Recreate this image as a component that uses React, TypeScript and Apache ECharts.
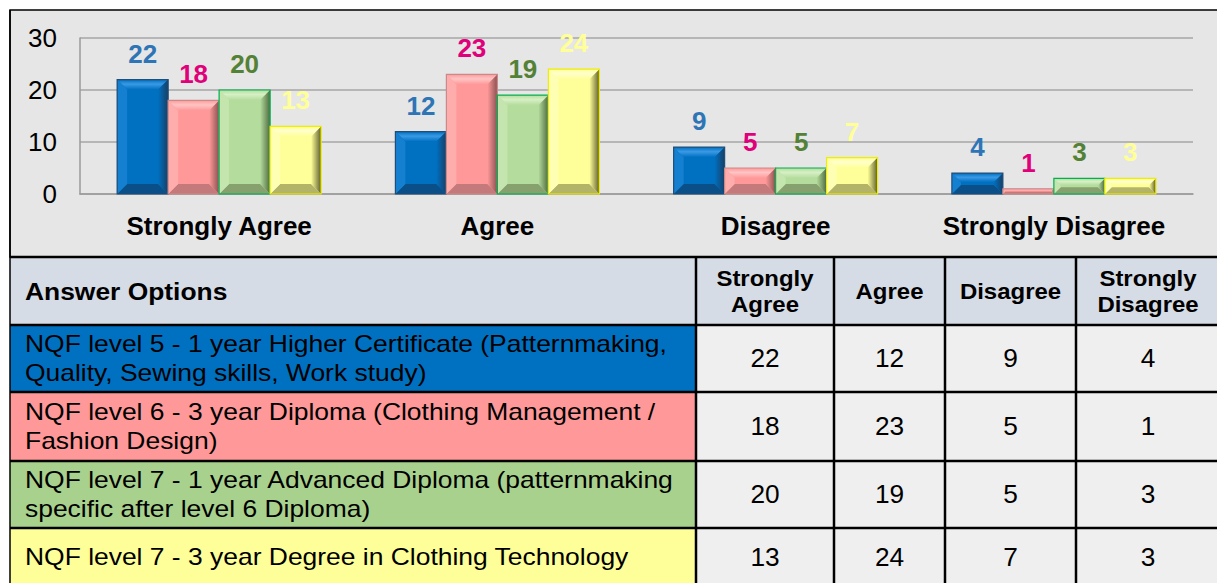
import React, { useEffect, useRef } from "react";
import * as echarts from "echarts";

// ---------- data ----------
const categories = ["Strongly Agree", "Agree", "Disagree", "Strongly Disagree"];
const rowLabels = [
  "NQF level 5 - 1 year Higher Certificate (Patternmaking,\nQuality, Sewing skills, Work study)",
  "NQF level 6 - 3 year Diploma (Clothing Management /\nFashion Design)",
  "NQF level 7 - 1 year Advanced Diploma (patternmaking\nspecific after level 6 Diploma)",
  "NQF level 7 - 3 year Degree in Clothing Technology",
];
const level5Values = [22, 12, 9, 4];
const level6Values = [18, 23, 5, 1];
const level7AdvancedValues = [20, 19, 5, 3];
const level7DegreeValues = [13, 24, 7, 3];
const yTicks = [0, 10, 20, 30];
const tableHeaderLabel = "Answer Options";

const seriesValues = [level5Values, level6Values, level7AdvancedValues, level7DegreeValues];

// ---------- styles ----------
const FONT = "'Liberation Sans', Arial, sans-serif";
const palettes = [
  { front: "#0070c0", top: "#3a9ae6", left: "#1580cf", right: "#173f66", bottom: "#0a4f88", border: "#1f4e79", label: "#2e75b6", cell: "#0070c0" },
  { front: "#ff9999", top: "#ffc4c4", left: "#ffacac", right: "#8a5050", bottom: "#c47a7a", border: "#c98a8a", label: "#e0007a", cell: "#ff9999" },
  { front: "#b4dc9c", top: "#d6f0c6", left: "#c4e6ae", right: "#4f6a40", bottom: "#86a06e", border: "#00b050", label: "#538135", cell: "#a9d18e" },
  { front: "#ffff99", top: "#ffffcc", left: "#ffffb4", right: "#5e5e2c", bottom: "#b4b468", border: "#eeee00", label: "#ffff99", cell: "#ffff99" },
];
const GROUP_RATIO = 0.733;

const GRID_LEFT = 80;
const GRID_TOP = 38;
const GRID_RIGHT = 24;
const GRID_BOTTOM = 583 - 194;

const ROW_EDGES = [257, 325, 392, 461, 528, 586];
const COL_EDGES = [10, 696, 834, 945, 1076, 1220];

function makeRenderItem(s: number) {
  return (params: any, api: any) => {
    const ci = api.value(0);
    const v = api.value(1);
    const top = api.coord([ci, v]);
    const base = api.coord([ci, 0]);
    const band = api.size([1, 0])[0];
    const groupW = band * GROUP_RATIO;
    const bw = groupW / 4;
    const x0 = top[0] - groupW / 2 + s * bw;
    const x1 = x0 + bw;
    const yTop = top[1];
    const yBase = base[1];
    const h = yBase - yTop;
    const b = Math.max(0, Math.min(10, h / 2.3, bw / 4));
    const p = palettes[s];
    const children: any[] = [];
    children.push({
      type: "rect",
      shape: { x: x0, y: yTop, width: bw, height: h },
      style: { fill: p.front },
    });
    if (b > 0.5) {
      children.push({
        type: "polygon",
        shape: { points: [[x0, yTop], [x1, yTop], [x1 - b, yTop + b], [x0 + b, yTop + b]] },
        style: {
          fill: new echarts.graphic.LinearGradient(0, 0, 0, 1, [
            { offset: 0, color: p.front },
            { offset: 0.45, color: p.top },
            { offset: 1, color: p.front },
          ]),
        },
      });
      children.push({
        type: "polygon",
        shape: { points: [[x0, yBase], [x1, yBase], [x1 - b, yBase - b], [x0 + b, yBase - b]] },
        style: { fill: p.bottom },
      });
      children.push({
        type: "polygon",
        shape: { points: [[x0, yTop], [x0 + b, yTop + b], [x0 + b, yBase - b], [x0, yBase]] },
        style: { fill: p.left },
      });
      children.push({
        type: "polygon",
        shape: { points: [[x1, yTop], [x1 - b, yTop + b], [x1 - b, yBase - b], [x1, yBase]] },
        style: {
          fill: new echarts.graphic.LinearGradient(0, 0, 1, 0, [
            { offset: 0, color: p.front },
            { offset: 1, color: p.right },
          ]),
        },
      });
    }
    children.push({
      type: "rect",
      shape: { x: x0, y: yTop, width: bw, height: h },
      style: { fill: "none", stroke: p.border, lineWidth: 1.2 },
    });
    children.push({
      type: "text",
      style: {
        text: String(v),
        x: (x0 + x1) / 2,
        y: yTop - 26,
        fill: p.label,
        font: `bold 26px ${FONT}`,
        align: "center",
        textAlign: "center",
        verticalAlign: "middle",
        textVerticalAlign: "middle",
      },
    });
    return { type: "group", children };
  };
}

function tableText(text: string, x: number, y: number, font: string, align: string, scaleX: number, lineHeight?: number) {
  return {
    type: "text",
    z: 102,
    x,
    y,
    scaleX,
    style: {
      text,
      x: 0,
      y: 0,
      fill: "#000",
      font,
      lineHeight,
      textAlign: align,
      textVerticalAlign: "middle",
    },
  };
}

function buildTable(): any[] {
  const els: any[] = [];
  const Z = 100;
  els.push({
    type: "rect",
    z: Z,
    shape: { x: COL_EDGES[0], y: ROW_EDGES[0], width: COL_EDGES[5] - COL_EDGES[0], height: ROW_EDGES[1] - ROW_EDGES[0] },
    style: { fill: "#d6dce5" },
  });
  for (let r = 0; r < rowLabels.length; r++) {
    const y0 = ROW_EDGES[r + 1];
    const y1 = ROW_EDGES[r + 2];
    els.push({
      type: "rect",
      z: Z,
      shape: { x: COL_EDGES[0], y: y0, width: COL_EDGES[1] - COL_EDGES[0], height: y1 - y0 },
      style: { fill: palettes[r].cell },
    });
    els.push({
      type: "rect",
      z: Z,
      shape: { x: COL_EDGES[1], y: y0, width: COL_EDGES[5] - COL_EDGES[1], height: y1 - y0 },
      style: { fill: "#efefef" },
    });
    els.push(tableText(rowLabels[r], 25, (y0 + y1) / 2, `23px ${FONT}`, "left", 1.15, 29));
    for (let c = 0; c < categories.length; c++) {
      els.push(
        tableText(
          String(seriesValues[r][c]),
          (COL_EDGES[c + 1] + COL_EDGES[c + 2]) / 2,
          (y0 + y1) / 2,
          `25px ${FONT}`,
          "center",
          1.05
        )
      );
    }
  }
  const hy = (ROW_EDGES[0] + ROW_EDGES[1]) / 2;
  els.push(tableText(tableHeaderLabel, 25, hy, `bold 24px ${FONT}`, "left", 1.1));
  for (let c = 0; c < categories.length; c++) {
    els.push(
      tableText(
        categories[c].replace(" ", "\n"),
        (COL_EDGES[c + 1] + COL_EDGES[c + 2]) / 2,
        hy,
        `bold 22px ${FONT}`,
        "center",
        1.09,
        26
      )
    );
  }
  for (let i = 0; i < ROW_EDGES.length - 1; i++) {
    els.push({
      type: "line",
      z: Z + 1,
      shape: { x1: COL_EDGES[0], y1: ROW_EDGES[i], x2: COL_EDGES[5], y2: ROW_EDGES[i] },
      style: { stroke: "#000", lineWidth: 2.5 },
    });
  }
  for (let i = 0; i < COL_EDGES.length - 1; i++) {
    els.push({
      type: "line",
      z: Z + 1,
      shape: { x1: COL_EDGES[i], y1: i === 0 ? 10 : ROW_EDGES[0], x2: COL_EDGES[i], y2: 590 },
      style: { stroke: "#000", lineWidth: i === 0 ? 1.5 : 2.5 },
    });
  }
  return els;
}

export default function App() {
  const ref = useRef<HTMLDivElement>(null);
  useEffect(() => {
    if (!ref.current) return;
    const chart = echarts.init(ref.current, null, { renderer: "svg" });
    const option: any = {
      animation: false,
      grid: { left: GRID_LEFT, top: GRID_TOP, right: GRID_RIGHT, bottom: GRID_BOTTOM, containLabel: false },
      xAxis: {
        type: "category",
        data: categories,
        axisTick: { show: false },
        axisLine: { show: true, lineStyle: { color: "#9a9a9a", width: 1.5 } },
        axisLabel: { color: "#000", fontFamily: FONT, fontWeight: "bold", fontSize: 26, margin: 19, interval: 0 },
        splitLine: { show: false },
      },
      yAxis: {
        type: "value",
        min: yTicks[0],
        max: yTicks[yTicks.length - 1],
        interval: yTicks[1] - yTicks[0],
        axisLine: { show: true, lineStyle: { color: "#9a9a9a", width: 1.5 } },
        axisTick: { show: false },
        axisLabel: { color: "#000", fontFamily: FONT, fontSize: 26, margin: 23 },
        splitLine: { show: true, lineStyle: { color: "#a6a6a6", width: 1.5 } },
      },
      series: seriesValues.map((vals, s) => ({
        type: "custom",
        name: rowLabels[s],
        renderItem: makeRenderItem(s),
        data: vals.map((v, i) => [i, v]),
        encode: { x: 0, y: 1 },
        clip: false,
        z: 5,
      })),
      graphic: [
        {
          type: "rect",
          z: -100,
          silent: true,
          shape: { x: 10, y: 10, width: 1215, height: 247 },
          style: { fill: "#e6e6e6", stroke: "#000", lineWidth: 1.5 },
        },
        ...buildTable(),
      ],
    };
    chart.setOption(option);
    return () => chart.dispose();
  }, []);
  return (
    <div
      ref={ref}
      style={{ position: "absolute", left: 0, top: 0, width: 1217, height: 583, background: "#fff" }}
    />
  );
}
